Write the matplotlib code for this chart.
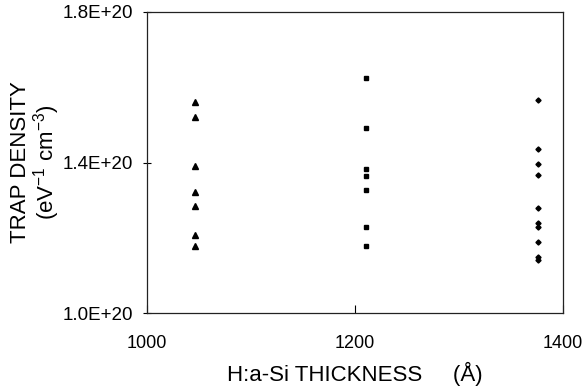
import matplotlib
matplotlib.use("Agg")
import matplotlib.pyplot as plt

plt.rcParams['font.family'] = ['Liberation Sans', 'DejaVu Sans']
plt.rcParams['mathtext.default'] = 'regular'

# trap density (x1e20 eV^-1 cm^-3) measured at each H:a-Si thickness (A)
thick_1 = 1046
dens_1 = [1.560, 1.520, 1.391, 1.322, 1.284, 1.207, 1.178]

thick_2 = 1211
dens_2 = [1.625, 1.492, 1.383, 1.365, 1.326, 1.229, 1.178]

thick_3 = 1376
dens_3 = [1.566, 1.436, 1.397, 1.366, 1.279, 1.238, 1.229, 1.190, 1.149, 1.140]

x_ticks = [1000, 1200, 1400]
y_ticks = [1.0e20, 1.4e20, 1.8e20]
y_tick_labels = ["1.0E+20", "1.4E+20", "1.8E+20"]

fig = plt.figure(figsize=(5.87, 3.92), dpi=100)
ax = fig.add_axes([0.2504, 0.2015, 0.7087, 0.7679])

ax.plot([thick_1] * len(dens_1), [d * 1e20 for d in dens_1], "^",
        color="black", markersize=3.8, linestyle="none")
ax.plot([thick_2] * len(dens_2), [d * 1e20 for d in dens_2], "s",
        color="black", markersize=3, linestyle="none")
ax.plot([thick_3] * len(dens_3), [d * 1e20 for d in dens_3], "D",
        color="black", markersize=2.6, linestyle="none")

ax.set_xlim(1000, 1400)
ax.set_ylim(1.0e20, 1.8e20)

ax.set_xticks(x_ticks)
ax.set_xticklabels([str(t) for t in x_ticks])
ax.set_yticks(y_ticks)
ax.set_yticklabels(y_tick_labels)

ax.tick_params(axis="x", direction="in", length=6, width=0.8, pad=16,
               labelsize=13)
ax.tick_params(axis="y", direction="inout", length=6, width=0.8, pad=7,
               labelsize=13.5)

for s in ax.spines.values():
    s.set_linewidth(0.9)
    s.set_color("#222222")

ax.set_xlabel("H:a-Si THICKNESS     (Å)", fontsize=16, labelpad=7)
ax.set_ylabel("TRAP DENSITY\n(eV$^{-1}$ cm$^{-3}$)", fontsize=16,
              linespacing=1.0)
ax.yaxis.set_label_coords(-0.205, 0.5)

fig.savefig("out.png", dpi=100)
